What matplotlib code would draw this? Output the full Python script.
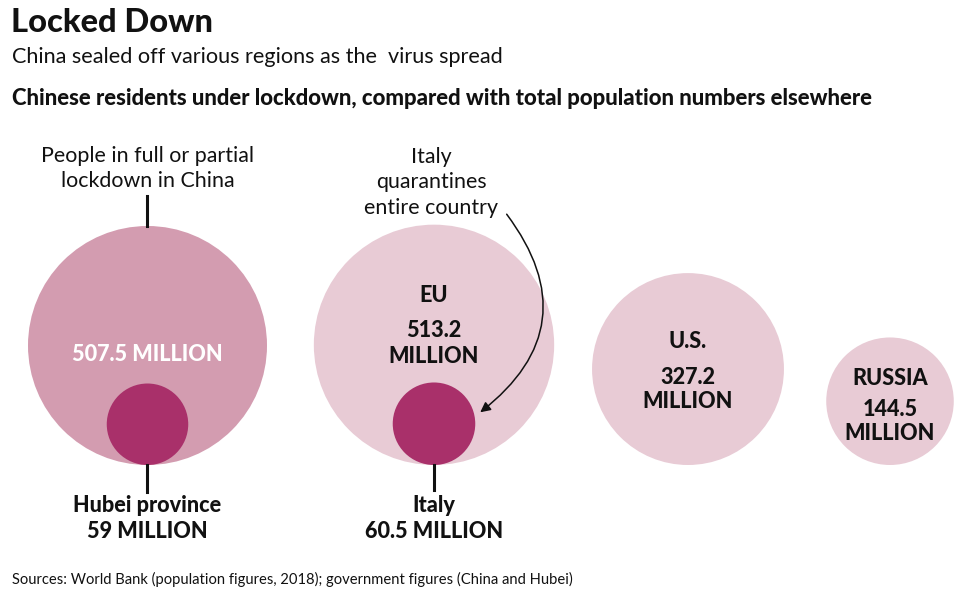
import matplotlib
matplotlib.use("Agg")
import matplotlib.pyplot as plt
from matplotlib.patches import Circle, FancyArrowPatch
import numpy as np

# ---- data ----
regions = ["China lockdown", "EU", "U.S.", "RUSSIA"]
populations = [507.5, 513.2, 327.2, 144.5]        # million
inner_names = ["Hubei province", "Italy"]
inner_values = [59, 60.5]                          # million

# ---- layout ----
W, H = 970, 608
centers_x = [147.5, 434, 688, 890]
base_y = 465
k = 119.5 / np.sqrt(507.5)

c_china = "#d39cb0"
c_light = "#e8cbd5"
c_dark = "#a9306a"
FONT = ["Lato", "DejaVu Sans"]
LBL = 15.6
ANN = 15.4
dy = 2

fig = plt.figure(figsize=(W / 100, H / 100), dpi=100)
ax = fig.add_axes([0, 0, 1, 1])
ax.set_xlim(0, W)
ax.set_ylim(H, 0)
ax.set_aspect("equal")
ax.axis("off")

def txt(x, y, s, size, weight="normal", color="#111111", ha="center", va="center"):
    ax.text(x, y, s, fontsize=size, fontweight=weight, color=color, ha=ha, va=va, family=FONT)

# big circles
radii = [k * np.sqrt(v) for v in populations]
for i, (cx, r) in enumerate(zip(centers_x, radii)):
    col = c_china if i == 0 else c_light
    ax.add_patch(Circle((cx, base_y - r), r, color=col, lw=0, zorder=1))

# inner circles
inner_r = [k * np.sqrt(v) for v in inner_values]
for cx, r in zip(centers_x[:2], inner_r):
    ax.add_patch(Circle((cx, base_y - r), r, color=c_dark, lw=0, zorder=2))

# titles
txt(11, 22, "Locked Down", 23.5, "black", ha="left")
txt(12, 57, "China sealed off various regions as the  virus spread", 15.6, ha="left")
txt(12, 98, "Chinese residents under lockdown, compared with total population numbers elsewhere", 15.9, "black", ha="left")

# China annotations
cx = centers_x[0]
txt(cx, 156, "People in full or partial", ANN)
txt(cx, 181, "lockdown in China", ANN)
ax.plot([cx, cx], [196, base_y - 2 * radii[0]], color="#111111", lw=2.2, zorder=3)
txt(cx, base_y - radii[0] + 7 + dy, f"{populations[0]} MILLION", LBL, "black", color="white")
ax.plot([cx, cx], [base_y, 492], color="#111111", lw=2.2, zorder=3)
txt(cx, 504 + dy, inner_names[0], LBL, "black")
txt(cx, 530 + dy, f"{inner_values[0]} MILLION", LBL, "black")

# EU annotations
cx = centers_x[1]
txt(cx - 3, 157, "Italy", ANN)
txt(cx - 3, 182, "quarantines", ANN)
txt(cx - 3, 208, "entire country", ANN)
txt(cx, 293 + dy, regions[1], LBL, "black")
txt(cx, 329 + dy, f"{populations[1]}", LBL, "black")
txt(cx, 355 + dy, "MILLION", LBL, "black")
ax.plot([cx, cx], [base_y, 490], color="#111111", lw=2.2, zorder=3)
txt(cx, 504 + dy, inner_names[1], LBL, "black")
txt(cx, 530 + dy, f"{inner_values[1]} MILLION", LBL, "black")
arrow = FancyArrowPatch((505, 212), (478, 414), connectionstyle="arc3,rad=-0.5",
                        arrowstyle="-|>,head_length=6,head_width=3", color="#111111",
                        lw=1.1, zorder=4)
ax.add_patch(arrow)

# U.S.
cx = centers_x[2]
txt(cx, 340 + dy, regions[2], LBL, "black")
txt(cx, 376 + dy, f"{populations[2]}", LBL, "black")
txt(cx, 400 + dy, "MILLION", LBL, "black")

# Russia
cx = centers_x[3]
txt(cx, 377 + dy, regions[3], LBL, "black")
txt(cx, 408 + dy, f"{populations[3]}", LBL, "black")
txt(cx, 432 + dy, "MILLION", LBL, "black")

txt(12, 579, "Sources: World Bank (population figures, 2018); government figures (China and Hubei)", 10.6, ha="left")

fig.savefig("out.png", dpi=100, facecolor="white")
